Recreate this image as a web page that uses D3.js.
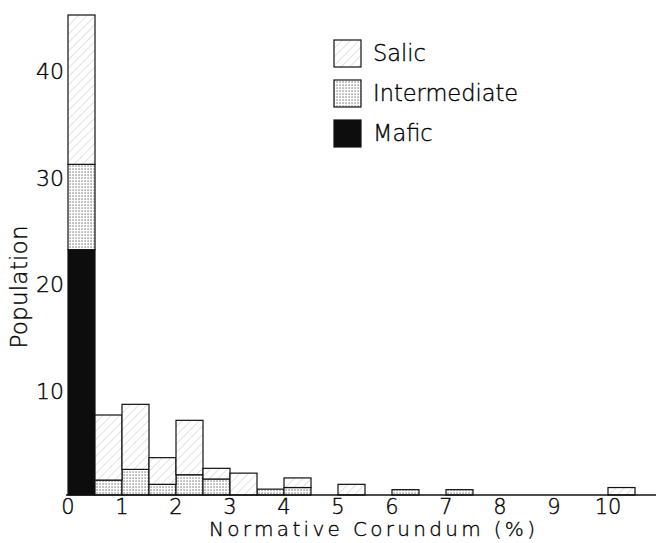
<!DOCTYPE html>
<html>
<head>
<meta charset="utf-8">
<script src="https://cdn.jsdelivr.net/npm/d3@7/dist/d3.min.js"></script>
<style>
  html, body { margin: 0; padding: 0; background: #fff; }
  svg { display: block; }
  text { font-family: "DejaVu Sans", "Lato", sans-serif; font-weight: 200; fill: #000; stroke: #000; stroke-width: 0.35; }
</style>
</head>
<body>
<svg id="chart" width="656" height="543"></svg>
<script>
// ---- data ----
const binStart = [0, 0.5, 1, 1.5, 2, 2.5, 3, 3.5, 4, 5, 6, 7, 10];
const binWidth = 0.5;
const mafic        = [23, 0,   0,   0,   0,   0,   0,    0,    0,   0,   0,   0,   0];
const intermediate = [8,  1.4, 2.4, 1.0, 1.9, 1.5, 0,    0.55, 0.7, 0,   0.5, 0.5, 0];
const salic        = [14, 6.1, 6.1, 2.5, 5.1, 1.0, 2.05, 0,    0.9, 1.0, 0,   0,   0.7];
const seriesNames = ["Mafic", "Intermediate", "Salic"];
const legendOrder = ["Salic", "Intermediate", "Mafic"];
const xTicks = [0, 1, 2, 3, 4, 5, 6, 7, 8, 9, 10];
const yTicks = [10, 20, 30, 40];
const xTitle = "Normative Corundum (%)";
const yTitle = "Population";

// ---- setup ----
const svg = d3.select("#chart");
const x = d3.scaleLinear().domain([0, 10]).range([68, 608]);
const y = d3.scaleLinear().domain([0, 45]).range([495, 15]);

const defs = svg.append("defs");
const hatch = defs.append("pattern").attr("id", "hatch")
  .attr("patternUnits", "userSpaceOnUse").attr("width", 6).attr("height", 6)
  .attr("patternTransform", "rotate(45)");
hatch.append("rect").attr("width", 6).attr("height", 6).attr("fill", "#fff");
hatch.append("line").attr("x1", 0).attr("y1", 0).attr("x2", 0).attr("y2", 6)
  .attr("stroke", "#b8b8b8").attr("stroke-width", 0.8);

const dots = defs.append("pattern").attr("id", "dots")
  .attr("patternUnits", "userSpaceOnUse").attr("width", 3).attr("height", 3);
dots.append("rect").attr("width", 3).attr("height", 3).attr("fill", "#fff");
dots.append("rect").attr("x", 0.5).attr("y", 0.5).attr("width", 1.1).attr("height", 1.1).attr("fill", "#444");

const fills = { Mafic: "#0d0d0d", Intermediate: "url(#dots)", Salic: "url(#hatch)" };

// stack
const table = binStart.map((b, i) => ({ start: b, Mafic: mafic[i], Intermediate: intermediate[i], Salic: salic[i] }));
const stacked = d3.stack().keys(seriesNames)(table);

const g = svg.append("g");
stacked.forEach(layer => {
  g.selectAll(null).data(layer.filter(d => d[1] - d[0] > 0)).enter().append("rect")
    .attr("x", d => x(d.data.start))
    .attr("width", d => x(d.data.start + binWidth) - x(d.data.start))
    .attr("y", d => y(d[1]))
    .attr("height", d => y(d[0]) - y(d[1]))
    .attr("fill", fills[layer.key])
    .attr("stroke", "#111").attr("stroke-width", 1.2);
});

// x axis baseline
svg.append("line").attr("x1", x(0) - 2).attr("x2", 656).attr("y1", y(0)).attr("y2", y(0))
  .attr("stroke", "#111").attr("stroke-width", 1.5);

// x tick labels
svg.selectAll(".xt").data(xTicks).enter().append("text")
  .attr("x", d => x(d)).attr("y", 507).attr("dy", "0.35em")
  .attr("text-anchor", "middle").attr("font-size", 21).text(d => d);

// y tick labels
svg.selectAll(".yt").data(yTicks).enter().append("text")
  .attr("x", 64).attr("y", d => y(d) + 3).attr("dy", "0.35em")
  .attr("text-anchor", "end").attr("font-size", 22).text(d => d);

// titles
svg.append("text").attr("x", 209).attr("y", 536)
  .attr("font-size", 20).attr("textLength", 326).attr("lengthAdjust", "spacing").text(xTitle);
svg.append("text").attr("transform", "translate(19,287) rotate(-90)").attr("dy", "0.35em")
  .attr("text-anchor", "middle").attr("font-size", 23)
  .attr("textLength", 123).attr("lengthAdjust", "spacing").text(yTitle);

// legend
const leg = svg.append("g");
legendOrder.forEach((k, i) => {
  leg.append("rect").attr("x", 334).attr("y", 40 + i * 40).attr("width", 27).attr("height", 27)
    .attr("fill", fills[k]).attr("stroke", "#111").attr("stroke-width", 1.2);
  leg.append("text").attr("x", 373).attr("y", 53 + i * 40).attr("dy", "0.35em")
    .attr("font-size", 22.5).text(k);
});
</script>
</body>
</html>
